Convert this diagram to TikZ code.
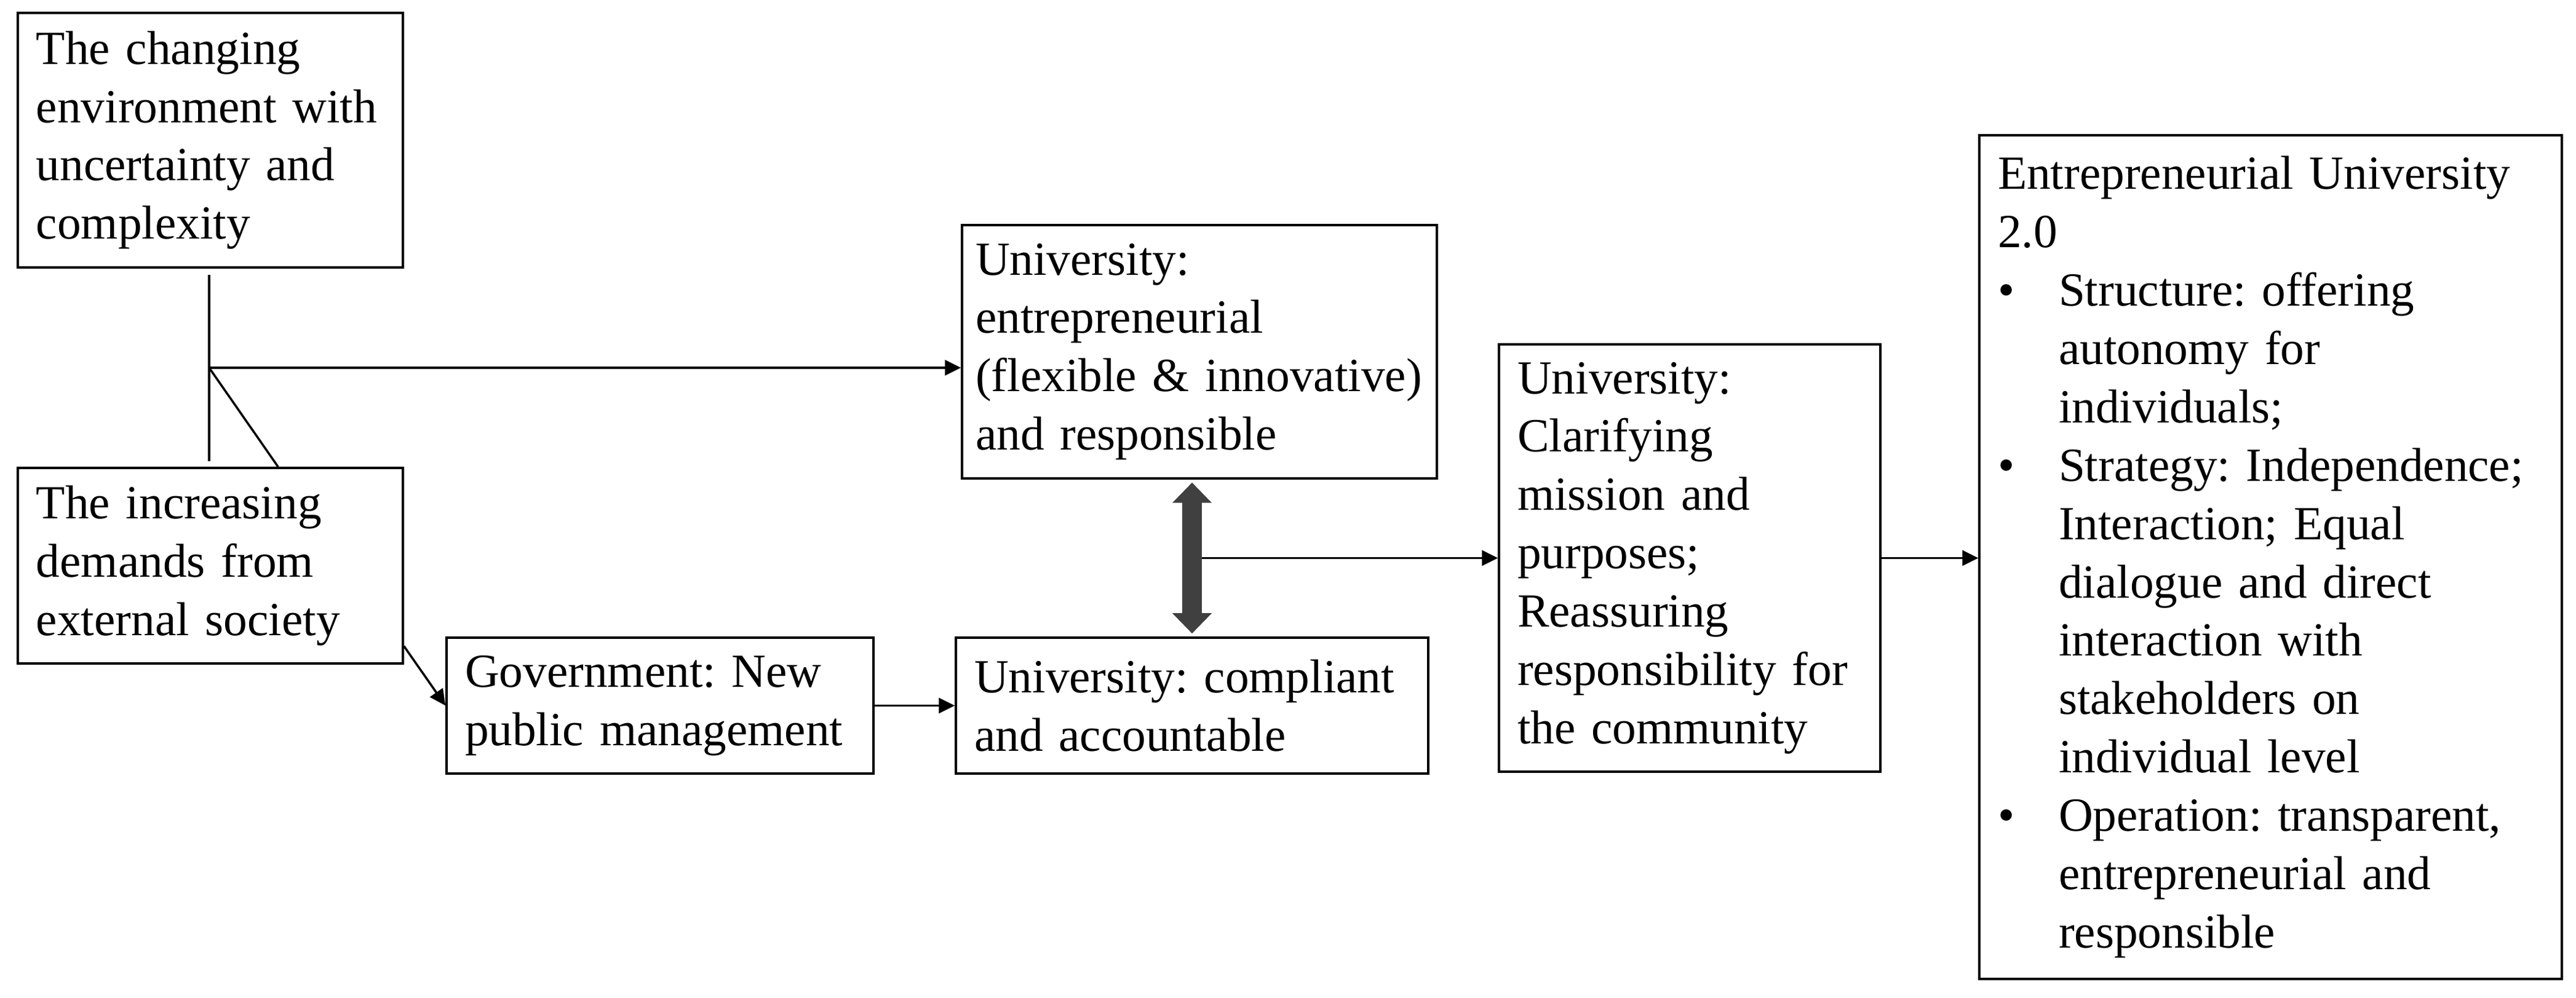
\documentclass[tikz,border=0pt]{standalone}
\usepackage{fontspec}
\setmainfont{Liberation Serif}
\frenchspacing
\usepackage{tikz}
\usetikzlibrary{calc,arrows.meta}
\def\euitem{\makebox[0.99cm][l]{\textbullet}}
\def\euindent{\hspace*{0.99cm}}

\tikzset{
	blk/.style={draw, line width=1pt, align=left, inner xsep=0.3cm, inner ysep=0pt, font=\fontsize{22}{27}\selectfont},
	line/.style={line width=1pt},
	link/.style={line width=1pt, -{Triangle[length=0.26cm,width=0.25cm]}},
	dblarrow/.style={line width=0.32cm, color=black!75, {Triangle[length=0.33cm,width=0.62cm]}-{Triangle[length=0.33cm,width=0.62cm]}, shorten <=0.05cm, shorten >=0.05cm}
}

\begin{document}
\begin{tikzpicture}
		%%%%% START %%%%%
		
		\fill[white] (0, 0) rectangle (41.88, 16.22);
		
		\node[blk, text width=5.66cm, minimum height=4.14cm] (chg) at (3.42, 13.94) {The changing\\environment with\\uncertainty and\\complexity};
		\node[blk, text width=5.66cm, minimum height=3.18cm] (incr) at (3.42, 7.02) {The increasing\\demands from\\external society};
		
		\node[blk, text width=6.34cm, minimum height=2.21cm] (gov) at (10.73, 4.745) {Government: New\\public management};
		\node[blk, text width=7.08cm, minimum height=2.21cm] (compl) at (19.38, 4.745) {University: compliant\\and accountable};
		\node[blk, inner xsep=0.22cm, text width=7.28cm, minimum height=4.12cm] (entre) at (19.50, 10.50) {University:\\entrepreneurial\\(flexible \& innovative)\\and responsible};
		
		\node[blk, text width=5.60cm, minimum height=6.95cm] (clar) at (27.47, 7.145) {University:\\Clarifying\\mission and\\purposes;\\Reassuring\\responsibility for\\the community};
		
		\node[blk, text width=8.87cm, minimum height=13.72cm] (eu) at (36.915, 7.16) {Entrepreneurial University\\2.0\\\euitem Structure: offering\\\euindent autonomy for\\\euindent individuals;\\\euitem Strategy: Independence;\\\euindent Interaction; Equal\\\euindent dialogue and direct\\\euindent interaction with\\\euindent stakeholders on\\\euindent individual level\\\euitem Operation: transparent,\\\euindent entrepreneurial and\\\euindent responsible};
		
		% left side
		\coordinate (jn) at (3.40, 10.24);
		\draw[line, shorten <=0.1cm, shorten >=0.09cm] (chg.south -| jn) -- (incr.north -| jn);
		\draw[link] (jn) -- (jn -| entre.west);
		\draw[line] (jn) -- ($(incr.north west)!0.675!(incr.north east)$);
		\draw[link] ($(incr.south east)+(0, 0.3)$) -- (gov.west);
		\draw[link] (gov.east) -- (compl.west);
		
		% middle and right
		\coordinate (mid) at ($(compl.north)!0.5!(compl.north |- entre.south)$);
		\draw[link] (mid) -- (mid -| clar.west);
		\draw[dblarrow] (compl.north) -- (compl.north |- entre.south);
		\draw[link] (clar.east) -- (clar.east -| eu.west);
		
		%%%%% END %%%%%
	\end{tikzpicture}
\end{document}
